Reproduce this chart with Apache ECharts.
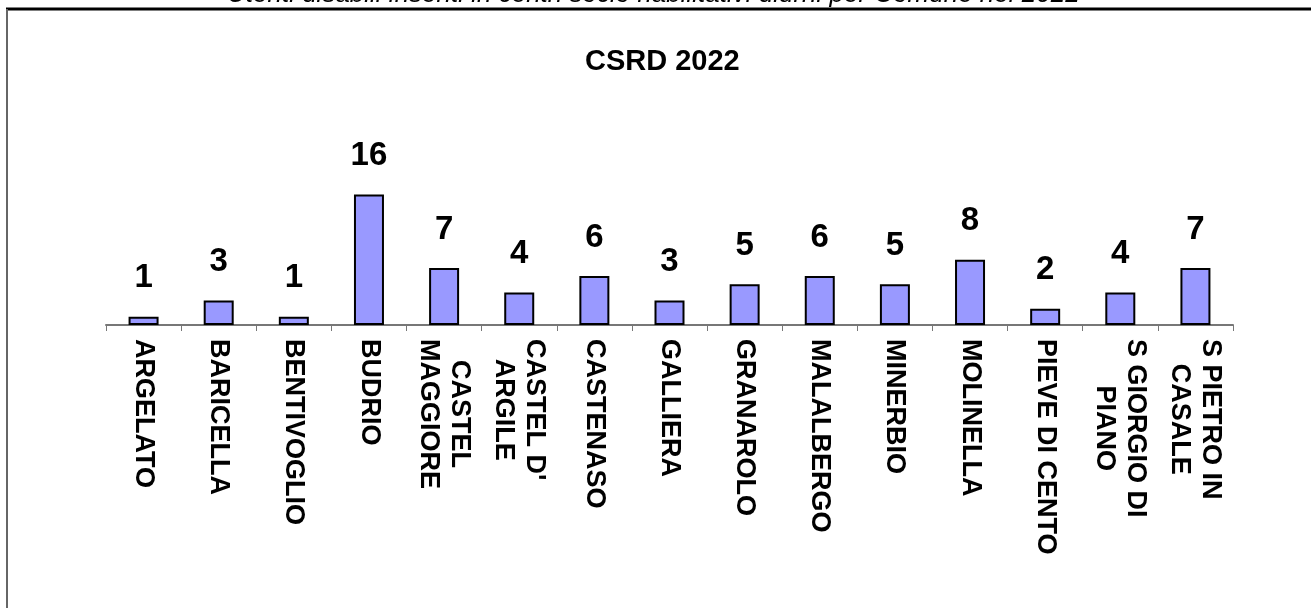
<!DOCTYPE html>
<html>
<head>
<meta charset="utf-8">
<script src="https://cdn.jsdelivr.net/npm/echarts@6/dist/echarts.min.js"></script>
<style>
  html, body { margin: 0; padding: 0; background: #fff; }
  #chart { width: 1311px; height: 608px; }
</style>
</head>
<body>
<div id="chart"></div>
<script>
// comuni (line breaks as in the original labels)
var categories = [
  "ARGELATO", "BARICELLA", "BENTIVOGLIO", "BUDRIO", "CASTEL\nMAGGIORE",
  "CASTEL D'\nARGILE", "CASTENASO", "GALLIERA", "GRANAROLO", "MALALBERGO",
  "MINERBIO", "MOLINELLA", "PIEVE DI CENTO", "S GIORGIO DI\nPIANO", "S PIETRO IN\nCASALE"
];
var utenti = [1, 3, 1, 16, 7, 4, 6, 3, 5, 6, 5, 8, 2, 4, 7];

var mainTitle = "Utenti disabili inseriti in centri socio riabilitativi diurni per Comune nel 2022";
var subTitle = "CSRD 2022";

var chart = echarts.init(document.getElementById("chart"));

var option = {
  animation: false,
  backgroundColor: "#fff",
  title: [
    {
      // cut off at the top edge, as in the original
      text: mainTitle,
      left: 222,
      top: -23,
      textStyle: {
        fontFamily: "Liberation Sans",
        fontStyle: "italic",
        fontWeight: "normal",
        fontSize: 26,
        color: "#000"
      }
    },
    {
      text: subTitle,
      left: 580,
      top: 42,
      textStyle: {
        fontFamily: "Liberation Sans",
        fontWeight: "bold",
        fontSize: 29,
        color: "#000"
      }
    }
  ],
  // frame of the chart area
  graphic: [
    { type: "line", shape: { x1: 6, y1: 9, x2: 1311, y2: 9 }, style: { stroke: "#000", lineWidth: 3 } },
    { type: "line", shape: { x1: 7, y1: 9, x2: 7, y2: 608 }, style: { stroke: "#666", lineWidth: 2 } }
  ],
  grid: { left: 106, right: 78, top: 162, bottom: 283 },
  xAxis: {
    type: "category",
    data: categories,
    axisLine: { lineStyle: { color: "#777", width: 2 } },
    axisTick: { show: true, length: 6, lineStyle: { color: "#777", width: 1 } },
    axisLabel: {
      interval: 0,
      rotate: -90,
      margin: 14,
      formatter: function (val) {
        return val.split("\n").map(function (s) { return "{a|" + s + "}"; }).join("\n");
      },
      rich: {
        a: {
          align: "center",
          fontFamily: "Liberation Sans",
          fontWeight: "bold",
          fontSize: 27,
          lineHeight: 31,
          color: "#000"
        }
      }
    }
  },
  yAxis: {
    type: "value",
    min: 0,
    max: 20,
    show: false,
    splitLine: { show: false }
  },
  series: [
    {
      type: "bar",
      data: utenti,
      barWidth: 30,
      itemStyle: { color: "#9999FF", borderColor: "#000", borderWidth: 2 },
      label: {
        show: true,
        position: "top",
        distance: 22,
        fontFamily: "Liberation Sans",
        fontWeight: "bold",
        fontSize: 33,
        color: "#000"
      }
    }
  ]
};

chart.setOption(option);
</script>
</body>
</html>
